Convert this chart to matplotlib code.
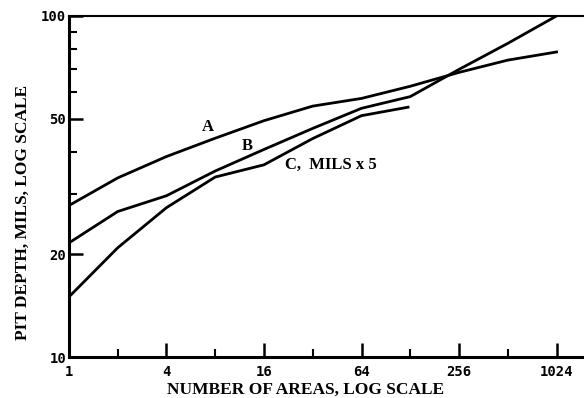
import matplotlib
matplotlib.use("Agg")
import matplotlib.pyplot as plt
from matplotlib.ticker import FixedLocator, NullFormatter

# number of areas (log2 spaced)
areas = [1, 2, 4, 8, 16, 32, 64, 128, 256, 512, 1024]
curve_a = [27.8, 33.5, 38.7, 43.8, 49.3, 54.4, 57.3, 62.2, 68.3, 74.2, 78.4]
curve_b = [21.6, 26.7, 29.7, 35.1, 40.6, 46.8, 53.6, 58.0, 69.7, 83.1, 100.0]
areas_c = [1, 2, 4, 8, 16, 32, 64, 124]
curve_c = [15.0, 20.9, 27.4, 33.7, 36.6, 43.7, 51.0, 54.0]

x_ticks = [1, 4, 16, 64, 256, 1024]
x_minor = [2, 8, 32, 128, 512]
y_ticks = [10, 20, 50, 100]
y_minor = [30, 40, 60, 70, 80, 90]

serif = {'family': 'Liberation Serif', 'weight': 'bold'}
mono = {'family': 'DejaVu Sans Mono', 'weight': 'bold'}

fig = plt.figure(figsize=(5.84, 3.98), dpi=100)
ax = fig.add_axes([0.118, 0.103, 0.882, 0.857])

lw = 2.0
ax.plot(areas, curve_a, color='black', lw=lw, solid_joinstyle='round')
ax.plot(areas, curve_b, color='black', lw=lw, solid_joinstyle='round')
ax.plot(areas_c, curve_c, color='black', lw=lw, solid_joinstyle='round')

# curve labels
ax.text(7.2, 47.2, 'A', fontsize=12, ha='center', va='center', **serif)
ax.text(12.6, 41.5, 'B', fontsize=12, ha='center', va='center', **serif)
ax.text(21.5, 36.7, 'C,  MILS x 5', fontsize=12, ha='left', va='center', **serif)

ax.set_xscale('log')
ax.set_yscale('log')
ax.set_xlim(1, 1512)
ax.set_ylim(10, 100)

ax.xaxis.set_major_locator(FixedLocator(x_ticks))
ax.xaxis.set_minor_locator(FixedLocator(x_minor))
ax.yaxis.set_major_locator(FixedLocator(y_ticks))
ax.yaxis.set_minor_locator(FixedLocator(y_minor))
ax.set_xticklabels([str(t) for t in x_ticks], fontdict=mono, fontsize=10)
ax.set_yticklabels([str(t) for t in y_ticks], fontdict=mono, fontsize=10)
ax.xaxis.set_minor_formatter(NullFormatter())
ax.yaxis.set_minor_formatter(NullFormatter())

ax.tick_params(which='major', direction='in', length=10, width=1.8)
ax.tick_params(axis='x', which='major', pad=6)
ax.tick_params(axis='y', which='major', pad=2)
ax.tick_params(which='minor', direction='in', length=6, width=1.5)
ax.tick_params(top=False, right=False, which='both')

ax.spines['right'].set_visible(False)
ax.spines['left'].set_linewidth(2.2)
ax.spines['bottom'].set_linewidth(2.2)
ax.spines['top'].set_linewidth(1.5)

ax.set_xlabel('NUMBER OF AREAS, LOG SCALE', fontsize=12.5, labelpad=2, **serif)
ax.set_ylabel('PIT DEPTH, MILS, LOG SCALE', fontsize=12.5, labelpad=7, **serif)
ax.xaxis.label.set_x(0.46)
ax.yaxis.label.set_y(0.425)

fig.savefig('out.png', dpi=100)
